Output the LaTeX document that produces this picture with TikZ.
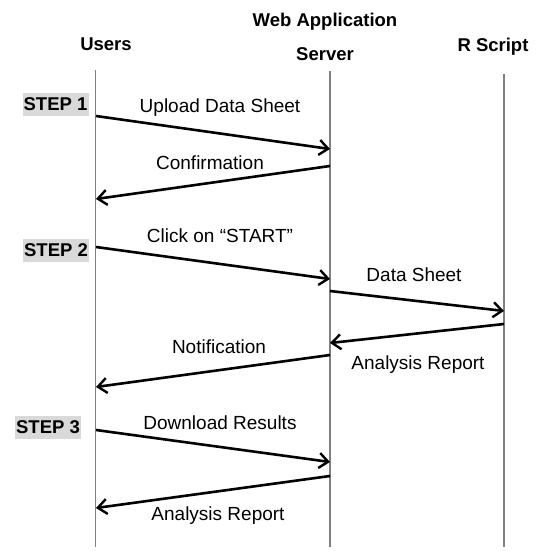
\documentclass[tikz,border=0pt]{standalone}
\usepackage{fontspec}
\setmainfont{Liberation Sans}
\usetikzlibrary{arrows.meta}
\begin{document}
\begin{tikzpicture}[x=1pt,y=-1pt,
  lifeline/.style={draw=black!50, line width=1.6pt},
  msg/.style={draw=black, line width=2.6pt,
    -{Straight Barb[length=9pt,width=15pt,line width=2.4pt]}},
  head/.style={font=\fontsize{18.5}{22}\selectfont\bfseries, inner sep=0pt, anchor=base},
  lbl/.style={font=\fontsize{19}{23}\selectfont, inner sep=0pt, anchor=base},
  stepbox/.style={fill=black!15, font=\fontsize{18.5}{22}\selectfont\bfseries,
    inner sep=0pt, minimum width=66pt, minimum height=23pt},
]
\useasboundingbox (0,0) rectangle (558,551);

% participants
\node[head] (users)  at (106,51) {Users};
\node[head] (webapp) at (325,27) {Web Application};
\node[head] (server) at (325,61) {Server};
\node[head] (rscript) at (493,52) {R Script};

% lifelines
\coordinate (uTop) at (95.5,70);  \coordinate (uBot) at (95.5,547);
\coordinate (sTop) at (330,71);   \coordinate (sBot) at (330,547);
\coordinate (rTop) at (504,74);   \coordinate (rBot) at (504,547);
\draw[lifeline] (uTop) -- (uBot);
\draw[lifeline] (sTop) -- (sBot);
\draw[lifeline] (rTop) -- (rBot);

% step markers
\node[stepbox] (step1) at (55.5,104.5) {STEP 1};
\node[stepbox] (step2) at (56,250)   {STEP 2};
\node[stepbox] (step3) at (48,427.5) {STEP 3};

% message end points on the lifelines
\coordinate (u1) at (96,116);  \coordinate (s1) at (330,149);
\coordinate (s2) at (330,166); \coordinate (u2) at (96,199);
\coordinate (u3) at (96,247);  \coordinate (s3) at (330,279);
\coordinate (s4) at (330,291); \coordinate (r4) at (504,311);
\coordinate (r5) at (504,324); \coordinate (s5) at (330,343);
\coordinate (s6) at (330,355); \coordinate (u6) at (96,387);
\coordinate (u7) at (96,430);  \coordinate (s7) at (330,462);
\coordinate (s8) at (330,476); \coordinate (u8) at (96,508);

% messages
\draw[msg] (u1) -- (s1);
\draw[msg] (s2) -- (u2);
\draw[msg] (u3) -- (s3);
\draw[msg] (s4) -- (r4);
\draw[msg] (r5) -- (s5);
\draw[msg] (s6) -- (u6);
\draw[msg] (u7) -- (s7);
\draw[msg] (s8) -- (u8);

% message labels
\node[lbl] (m1) at (220,113) {Upload Data Sheet};
\node[lbl] (m2) at (210,170) {Confirmation};
\node[lbl] (m3) at (220,242) {Click on “START”};
\node[lbl] (m4) at (414,281) {Data Sheet};
\node[lbl] (m5) at (418,369) {Analysis Report};
\node[lbl] (m6) at (219,353) {Notification};
\node[lbl] (m7) at (220,429) {Download Results};
\node[lbl] (m8) at (218,520) {Analysis Report};
\end{tikzpicture}
\end{document}
